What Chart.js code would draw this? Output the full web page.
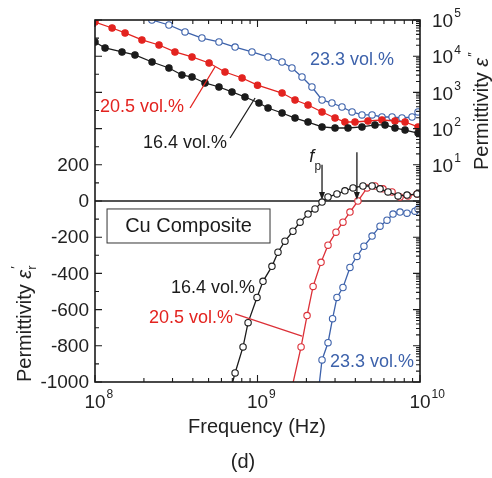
<!DOCTYPE html>
<html>
<head>
<meta charset="utf-8">
<script src="https://cdn.jsdelivr.net/npm/chart.js@4.4.1/dist/chart.umd.min.js"></script>
<style>
  html, body { margin: 0; padding: 0; background: #fff; }
  #wrap { width: 492px; height: 478px; }
</style>
</head>
<body>
<div id="wrap"><canvas id="chart" width="492" height="478"></canvas></div>
<script>
/* Cu composite permittivity vs frequency (panel d).
   Frequencies in GHz (1e8 .. 1e10 Hz). */

// --- imaginary part eps'' (right, log axis) ---
const FREQ_LOSS_164 = [0.100, 0.1153, 0.1466, 0.1762, 0.2244, 0.2851, 0.3428, 0.3954, 0.4753, 0.5794,
                       0.6966, 0.8375, 1.021, 1.161, 1.416, 1.702, 2.046, 2.495, 3.00, 3.606,
                       4.395, 5.284, 6.095, 7.015, 8.091, 9.727];
const LOSS_164      = [24700, 16900, 13100, 10800, 6920, 4720, 3030, 2660, 1820, 1410,
                       1030, 746, 509, 371, 270, 196, 152, 111, 104, 104,
                       111, 126, 126, 104, 91, 75];

const FREQ_LOSS_205 = [0.100, 0.1274, 0.1531, 0.1945, 0.2477, 0.3105, 0.3954, 0.5035, 0.6310, 0.8035,
                       1.00, 1.416, 1.702, 2.046, 2.495, 3.00, 3.451, 3.981, 4.786, 5.834,
                       7.015, 8.091, 9.727];
const LOSS_205      = [88100, 60100, 43800, 28100, 20400, 13100, 9510, 6490, 3660, 2500,
                       1580, 962, 617, 449, 288, 196, 152, 152, 162, 173,
                       162, 152, 111];

const FREQ_LOSS_233 = [0.2239, 0.2851, 0.3581, 0.4550, 0.5794, 0.7278, 0.9247, 1.161, 1.416, 1.629,
                       1.879, 2.163, 2.495, 2.871, 3.311, 3.819, 4.395, 5.070, 5.834, 6.730,
                       7.745, 8.933, 9.727];
const LOSS_233      = [100000, 72800, 46700, 31800, 24700, 17900, 13100, 9510, 6920, 4720,
                       2660, 1410, 617, 509, 395, 288, 238, 238, 209, 209,
                       196, 209, 288];

// --- real part eps'_r (left, linear axis) ---
const FREQ_REAL_164 = [0.676, 0.7278, 0.8147, 0.8750, 0.9931, 1.081, 1.227, 1.337, 1.476, 1.652,
                       1.828, 2.046, 2.259, 2.495, 2.716, 3.083, 3.451, 3.873, 4.457, 5.070,
                       5.675, 6.353, 7.328, 8.318, 9.594];
const REAL_164      = [-1060, -950, -806, -672, -533, -444, -361, -283, -222, -167,
                       -117, -72, -44, -6, 22, 39, 56, 72, 83, 83,
                       67, 50, 28, 33, 39];

const FREQ_REAL_205 = [1.622, 1.854, 2.018, 2.198, 2.460, 2.716, 3.041, 3.357, 3.707, 4.150,
                       4.721, 5.284, 5.916, 6.730, 7.534, 8.433, 9.594];
const REAL_205      = [-1040, -806, -633, -472, -339, -244, -172, -117, -61, 0,
                       72, 83, 67, 50, 22, 28, 39];

const FREQ_REAL_233 = [2.371, 2.495, 2.716, 2.897, 3.083, 3.357, 3.707, 4.093, 4.519, 5.070,
                       5.675, 6.266, 6.823, 7.534, 8.318, 9.311, 9.727];
const REAL_233      = [-1050, -878, -783, -650, -533, -478, -367, -306, -250, -194,
                       -139, -106, -72, -61, -67, -56, -44];

// --- axes ---
const X_MAJOR   = [0.1, 1, 10];
const X_LABELS  = [['10', '8'], ['10', '9'], ['10', '10']];
const X_MINOR   = [2, 3, 4, 5, 6, 7, 8, 9];
const LEFT_MAJOR  = [-1000, -800, -600, -400, -200, 0, 200, 400, 600, 800, 1000];
const LEFT_MINOR  = [-900, -700, -500, -300, -100, 100, 300, 500, 700, 900];
const LEFT_LABELS = ['-1000', '-800', '-600', '-400', '-200', '0', '200'];
const RIGHT_DECADES = [-5, -4, -3, -2, -1, 0, 1, 2, 3, 4, 5];
const RIGHT_LABELS  = [1, 2, 3, 4, 5];

const INK = '#1b1b1b';
const RED = '#e3231f';
const RED_LINE = '#dc3038';
const BLUE = '#3d62ab';
const FONT = "'Liberation Sans', Arial, sans-serif";

const pts = (xs, ys) => xs.map((x, i) => ({ x: x, y: ys[i] }));

function series(label, xs, ys, axis, color, filled, lineColor) {
  return {
    label: label,
    data: pts(xs, ys),
    yAxisID: axis,
    showLine: true,
    borderColor: lineColor || color,
    borderWidth: 1.3,
    pointRadius: 3.2,
    pointBorderWidth: 1.1,
    pointBorderColor: color,
    pointBackgroundColor: filled ? color : '#fff',
    tension: 0,
  };
}

function drawPow(ctx, base, exp, x, y, align, size) {
  ctx.font = size + 'px ' + FONT;
  const wb = ctx.measureText(base).width;
  ctx.font = Math.round(size * 0.62) + 'px ' + FONT;
  const we = ctx.measureText(exp).width;
  let left = x;
  if (align === 'center') left = x - wb / 2;
  ctx.textAlign = 'left';
  ctx.textBaseline = 'middle';
  ctx.font = size + 'px ' + FONT;
  ctx.fillText(base, left, y);
  ctx.font = Math.round(size * 0.62) + 'px ' + FONT;
  ctx.fillText(exp, left + wb + 1, y - size * 0.42);
  return wb + we;
}

const decorations = {
  id: 'decorations',
  beforeDatasetsDraw(chart) {
    const { ctx, chartArea: a, scales } = chart;
    const y0 = scales.y.getPixelForValue(0);
    ctx.save();
    ctx.strokeStyle = INK;
    ctx.lineWidth = 1.6;
    ctx.beginPath();
    ctx.moveTo(a.left, y0);
    ctx.lineTo(a.right, y0);
    ctx.stroke();
    ctx.restore();
  },
  afterDatasetsDraw(chart) {
    const { ctx, chartArea: a, scales } = chart;
    const sx = scales.x, sl = scales.y, sr = scales.y2;
    ctx.save();
    ctx.strokeStyle = INK;
    ctx.fillStyle = INK;

    // frame
    ctx.lineWidth = 1.6;
    ctx.strokeRect(a.left, a.top, a.right - a.left, a.bottom - a.top);

    // ticks (inward)
    ctx.lineWidth = 1.1;
    ctx.beginPath();
    const tick = (x1, y1, x2, y2) => { ctx.moveTo(x1, y1); ctx.lineTo(x2, y2); };
    X_MAJOR.forEach(v => {
      const px = sx.getPixelForValue(v);
      tick(px, a.bottom, px, a.bottom - 7);
      tick(px, a.top, px, a.top + 7);
      if (v < 10) X_MINOR.forEach(m => {
        const pm = sx.getPixelForValue(v * m);
        tick(pm, a.bottom, pm, a.bottom - 4);
        tick(pm, a.top, pm, a.top + 4);
      });
    });
    LEFT_MAJOR.forEach(v => { const py = sl.getPixelForValue(v); tick(a.left, py, a.left + 7, py); });
    LEFT_MINOR.forEach(v => { const py = sl.getPixelForValue(v); tick(a.left, py, a.left + 4, py); });
    RIGHT_DECADES.forEach(e => {
      const py = sr.getPixelForValue(Math.pow(10, e));
      tick(a.right, py, a.right - 7, py);
      if (e < 5) X_MINOR.forEach(m => {
        const pm = sr.getPixelForValue(m * Math.pow(10, e));
        tick(a.right, pm, a.right - 4, pm);
      });
    });
    ctx.stroke();

    // tick labels
    ctx.fillStyle = '#222';
    X_MAJOR.forEach((v, i) => {
      drawPow(ctx, X_LABELS[i][0], X_LABELS[i][1], sx.getPixelForValue(v), a.bottom + 21, 'center', 19);
    });
    ctx.font = '19px ' + FONT;
    ctx.textAlign = 'right';
    ctx.textBaseline = 'middle';
    LEFT_LABELS.forEach(t => {
      ctx.fillText(t, a.left - 6, sl.getPixelForValue(Number(t)) + 1);
    });
    RIGHT_LABELS.forEach(e => {
      drawPow(ctx, '10', String(e), a.right + 12, sr.getPixelForValue(Math.pow(10, e)) + 2, 'left', 19);
    });

    // axis titles
    ctx.fillStyle = '#222';
    ctx.textAlign = 'center';
    ctx.textBaseline = 'middle';
    ctx.font = '20px ' + FONT;
    ctx.fillText('Frequency (Hz)', 257, 427);
    ctx.fillText('(d)', 243, 462);

    const vTitle = (x, yStart, sub, sup) => {
      ctx.save();
      ctx.translate(x, yStart);
      ctx.rotate(-Math.PI / 2);
      ctx.textAlign = 'left';
      ctx.textBaseline = 'middle';
      ctx.font = '20px ' + FONT;
      const t = 'Permittivity ';
      ctx.fillText(t, 0, 0);
      let w = ctx.measureText(t).width;
      ctx.font = 'italic 20px ' + FONT;
      ctx.fillText('\u03b5', w, 0);
      w += ctx.measureText('\u03b5').width;
      ctx.font = '13px ' + FONT;
      if (sub) ctx.fillText(sub, w, 7);
      ctx.fillText(sup, w + 1, -9);
      ctx.restore();
    };
    vTitle(25, 382, 'r', '\u2032');
    vTitle(482, 170, '', '\u2033');

    // annotations, positioned in data units
    const at = (f, v, axis) => [sx.getPixelForValue(f), (axis === 'y2' ? sr : sl).getPixelForValue(v)];
    const label = (text, f, v, axis, color) => {
      const [px, py] = at(f, v, axis);
      ctx.fillStyle = color;
      ctx.font = '18px ' + FONT;
      ctx.textAlign = 'center';
      ctx.textBaseline = 'middle';
      ctx.fillText(text, px, py);
    };
    const leader = (f1, v1, f2, v2, axis, color) => {
      const [x1, y1] = at(f1, v1, axis);
      const [x2, y2] = at(f2, v2, axis);
      ctx.strokeStyle = color;
      ctx.lineWidth = 1.3;
      ctx.beginPath();
      ctx.moveTo(x1, y1);
      ctx.lineTo(x2, y2);
      ctx.stroke();
    };

    label('20.5 vol.%', 0.1945, 395, 'y2', RED);
    leader(0.3846, 371, 0.547, 5035, 'y2', RED);
    label('16.4 vol.%', 0.358, 40, 'y2', INK);
    leader(0.678, 55, 0.966, 700, 'y2', INK);
    label('23.3 vol.%', 3.82, 7850, 'y2', BLUE);

    label('16.4 vol.%', 0.532, -481, 'y', INK);
    label('20.5 vol.%', 0.390, -646, 'y', RED);
    leader(0.7278, -624, 1.879, -746, 'y', RED_LINE);
    label('23.3 vol.%', 5.07, -890, 'y', BLUE);

    // Cu Composite box
    const [bx1, by1] = at(0.1186, -44, 'y');
    const [bx2, by2] = at(1.194, -232, 'y');
    ctx.fillStyle = '#fff';
    ctx.fillRect(bx1, by1, bx2 - bx1, by2 - by1);
    ctx.strokeStyle = '#333';
    ctx.lineWidth = 1;
    ctx.strokeRect(bx1, by1, bx2 - bx1, by2 - by1);
    ctx.fillStyle = INK;
    ctx.font = '20px ' + FONT;
    ctx.textAlign = 'center';
    ctx.textBaseline = 'middle';
    ctx.fillText('Cu Composite', (bx1 + bx2) / 2, (by1 + by2) / 2 + 1);

    // f_p marker and arrows
    const [fx, fy] = at(2.16, 243, 'y');
    ctx.fillStyle = INK;
    ctx.font = 'italic 18px ' + FONT;
    ctx.textAlign = 'center';
    ctx.fillText('f', fx, fy);
    ctx.font = '12px ' + FONT;
    ctx.fillText('p', fx + 6, fy + 10);
    const arrow = (f, vTop) => {
      const [ax, ayTop] = at(f, vTop, 'y');
      const ay0 = sl.getPixelForValue(0);
      ctx.strokeStyle = INK;
      ctx.lineWidth = 1.3;
      ctx.beginPath();
      ctx.moveTo(ax, ayTop);
      ctx.lineTo(ax, ay0 - 6);
      ctx.stroke();
      ctx.beginPath();
      ctx.moveTo(ax - 3, ay0 - 9);
      ctx.lineTo(ax + 3, ay0 - 9);
      ctx.lineTo(ax, ay0 - 1);
      ctx.closePath();
      ctx.fill();
    };
    arrow(2.495, 200);
    arrow(4.09, 270);

    ctx.restore();
  },
};

new Chart(document.getElementById('chart'), {
  type: 'scatter',
  data: {
    datasets: [
      series('16.4 eps\'\'', FREQ_LOSS_164, LOSS_164, 'y2', INK, true),
      series('20.5 eps\'\'', FREQ_LOSS_205, LOSS_205, 'y2', RED, true),
      series('23.3 eps\'\'', FREQ_LOSS_233, LOSS_233, 'y2', BLUE, false),
      series('16.4 eps\'', FREQ_REAL_164, REAL_164, 'y', INK, false),
      series('20.5 eps\'', FREQ_REAL_205, REAL_205, 'y', RED_LINE, false),
      series('23.3 eps\'', FREQ_REAL_233, REAL_233, 'y', BLUE, false),
    ],
  },
  options: {
    responsive: false,
    animation: false,
    devicePixelRatio: 1,
    layout: { padding: { left: 95, top: 20, right: 72, bottom: 96 } },
    plugins: { legend: { display: false }, tooltip: { enabled: false } },
    scales: {
      x:  { type: 'logarithmic', min: 0.1, max: 10, display: false },
      y:  { type: 'linear', min: -1000, max: 1000, display: false },
      y2: { type: 'logarithmic', min: 1e-5, max: 1e5, display: false },
    },
  },
  plugins: [decorations],
});
</script>
</body>
</html>
